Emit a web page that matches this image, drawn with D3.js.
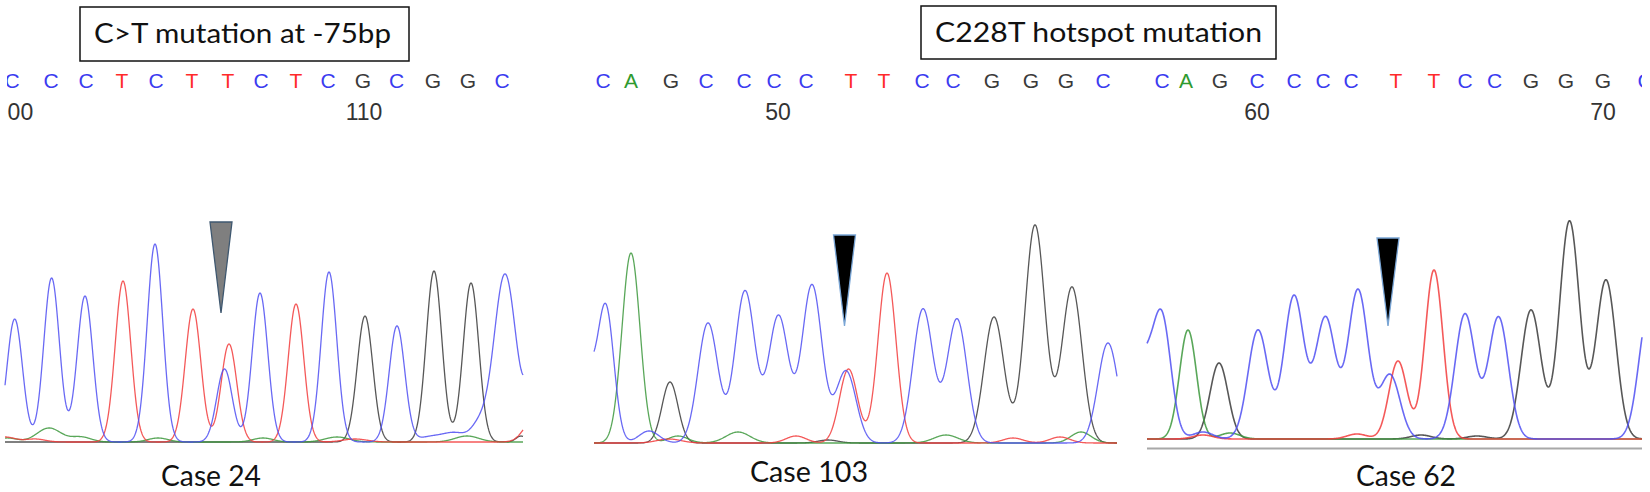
<!DOCTYPE html>
<html>
<head>
<meta charset="utf-8">
<script src="https://cdn.jsdelivr.net/npm/d3@7"></script>
<style>
  html, body { margin: 0; padding: 0; background: #ffffff; }
  svg { display: block; }
</style>
</head>
<body>
<svg id="chart" width="1650" height="492"></svg>
<script>
// ---------------- DATA ----------------
const titles = ["C>T mutation at -75bp", "C228T hotspot mutation"];
const caseLabels = ["Case 24", "Case 103", "Case 62"];

// Panel 1 (scan units)
const p1Bases   = ["C","C","C","T","C","T","T","C","T","C","G","C","G","G","C"];
const p1CallPos = [7, 46, 81, 117, 151, 187, 223, 256, 291, 323, 358, 391.5, 428, 463, 497];
const p1Ticks   = [["100", 9], ["110", 359]];
const p1Blue  = [[9.7,123],[46.6,164],[80,146],[150,198],[219.5,73],[255,149],[324,170],[392,116],[425,5,12],[450,9,12],[474,15,8],[500,168,11],[536,170,9]];
const p1Red   = [[0,5,10],[30,3,10],[118,161],[188,133],[224,98],[291,138],[350,3,12],[530,25,10]];
const p1Black = [[360,126],[429,171],[466,159],[516,6,5]];
const p1Green = [[2,4,10],[44,14,12],[76,5,10],[153,4,10],[258,4,10],[332,5,12],[462,6,12]];

// Panel 2
const p2Bases   = ["C","A","G","C","C","C","C","T","T","C","C","G","G","G","C"];
const p2CallPos = [9, 37, 77, 112, 150, 180, 212, 257, 290, 328, 359, 398, 437, 472, 509];
const p2Ticks   = [["50", 184]];
const p2Blue  = [[-10,80],[12,132,8],[55,12],[114,120],[151,152],[184.5,127],[218,158],[252,72],[329,134],[363,124],[514,100]];
const p2Red   = [[75,4,12],[202,7],[254.5,74,9],[293,170,9],[419,5],[466,6]];
const p2Black = [[76,61,8],[234,3],[400,126],[441,218],[478,156]];
const p2Green = [[37,190,9],[84,7],[144,11,12],[352,8,12],[487,11]];

// Panel 3
const p3Bases   = ["C","A","G","C","C","C","C","T","T","C","C","G","G","G","C"];
const p3CallPos = [15, 39, 73, 110, 147, 176, 204, 249, 287, 318, 347.5, 384, 419, 456, 498];
const p3Ticks   = [["60", 110], ["70", 456]];
const p3Blue  = [[-5,75],[15,118,9],[56,7],[111,109],[147,143],[178.5,121],[211,149],[243,64],[318,125],[351.5,122],[502,130]];
const p3Red   = [[56,4],[210,5],[251,78,9],[287,169,9]];
const p3Black = [[72,76,9],[274,4],[330,3],[384,129],[422.5,218],[459,159]];
const p3Green = [[41,109,8.5],[83,6]];

// ---------------- LAYOUT / STYLE ----------------
const panels = [
  { bases: p1Bases, calls: p1CallPos, ticks: p1Ticks, traces: {G: p1Black, A: p1Green, T: p1Red, C: p1Blue},
    sigma: 7.8, domain: [0, 518], x0: 5, x1: 523, base: 442, clipL: 7, clipR: 530,
    mut: 216, triTop: 220, triTip: 129, triFill: "#7f7f7f", triStroke: "#3f5870", lw: 1.3,
    caseX: 211, caseY: 486, caseW: 100 },
  { bases: p2Bases, calls: p2CallPos, ticks: p2Ticks, traces: {G: p2Black, A: p2Green, T: p2Red, C: p2Blue},
    sigma: 10, domain: [0, 523], x0: 594, x1: 1117, base: 443, clipL: 560, clipR: 1120,
    mut: 250.5, triTop: 208, triTip: 117, triFill: "#000000", triStroke: "#7aa6d6", lw: 1.3,
    caseX: 809, caseY: 482, caseW: 118 },
  { bases: p3Bases, calls: p3CallPos, ticks: p3Ticks, traces: {G: p3Black, A: p3Green, T: p3Red, C: p3Blue},
    sigma: 10, domain: [0, 495], x0: 1147, x1: 1642, base: 439, clipL: 1125, clipR: 1642,
    mut: 241, triTop: 201, triTip: 113, triFill: "#000000", triStroke: "#7aa6d6", lw: 1.6,
    caseX: 1406, caseY: 486, caseW: 100, underline: 448.5 }
];

const letterColor = { C: "#3b3bf0", T: "#ff2a2a", G: "#3a3a3a", A: "#2f9a2f" };
const traceColor  = { C: "#4f4ff2", T: "#f23c3c", G: "#3a3a3a", A: "#3c983c" };

const svg = d3.select("#chart");
const defs = svg.append("defs");

// Title boxes
const boxes = [
  { text: titles[0], x: 80, y: 7, w: 329, h: 54, tx: 94, tw: 297, ty: 43 },
  { text: titles[1], x: 921, y: 6, w: 355, h: 53, tx: 935, tw: 327, ty: 42 }
];
boxes.forEach(b => {
  svg.append("rect").attr("x", b.x).attr("y", b.y).attr("width", b.w).attr("height", b.h)
    .attr("fill", "#fff").attr("stroke", "#111").attr("stroke-width", 1.5);
  svg.append("text").attr("x", b.tx).attr("y", b.ty).text(b.text)
    .attr("font-family", "Lato, 'Open Sans', sans-serif").attr("font-size", 26)
    .attr("fill", "#111").attr("textLength", b.tw).attr("lengthAdjust", "spacingAndGlyphs");
});

panels.forEach((p, i) => {
  const x = d3.scaleLinear().domain(p.domain).range([p.x0, p.x1]);
  const y = d3.scaleLinear().domain([0, 250]).range([p.base, p.base - 250]);

  const clipId = "clip" + i;
  defs.append("clipPath").attr("id", clipId).append("rect")
    .attr("x", p.clipL).attr("y", 60).attr("width", p.clipR - p.clipL).attr("height", 80);
  const g = svg.append("g");

  // base calls
  const lg = g.append("g").attr("clip-path", `url(#${clipId})`);
  lg.selectAll("text.base").data(p.bases.map((b, k) => ({ b, pos: p.calls[k] })))
    .join("text").attr("class", "base")
    .attr("x", d => x(d.pos)).attr("y", 88).attr("text-anchor", "middle")
    .attr("font-family", "'Liberation Sans', Arial, sans-serif").attr("font-size", 21)
    .attr("fill", d => letterColor[d.b]).text(d => d.b);
  lg.selectAll("text.tick").data(p.ticks).join("text").attr("class", "tick")
    .attr("x", d => x(d[1])).attr("y", 120).attr("text-anchor", "middle")
    .attr("font-family", "'Liberation Sans', Arial, sans-serif").attr("font-size", 23)
    .attr("fill", "#333").text(d => d[0]);

  // traces
  const samples = d3.range(p.domain[0], p.domain[1] + 0.001, 0.5);
  const line = d3.line().x(d => x(d[0])).y(d => y(d[1]));
  ["G", "A", "T", "C"].forEach(ch => {
    const peaks = p.traces[ch];
    const pts = samples.map(s => {
      let v = 0;
      peaks.forEach(pk => {
        const sg = pk[2] || p.sigma;
        v += pk[1] * Math.exp(-((s - pk[0]) ** 2) / (2 * sg * sg));
      });
      return [s, v];
    });
    g.append("path").datum(pts).attr("d", line)
      .attr("fill", "none").attr("stroke", traceColor[ch])
      .attr("stroke-width", p.lw).attr("stroke-opacity", 0.85)
      .attr("stroke-linejoin", "round");
  });

  if (p.underline) {
    g.append("line").attr("x1", p.x0).attr("x2", p.x1)
      .attr("y1", p.underline).attr("y2", p.underline)
      .attr("stroke", "#a8a8a8").attr("stroke-width", 2.2);
  }

  // mutation marker
  const cx = x(p.mut);
  g.append("path")
    .attr("d", `M${cx - 11},${y(p.triTop)} L${cx + 11},${y(p.triTop)} L${cx},${y(p.triTip)} Z`)
    .attr("fill", p.triFill).attr("stroke", p.triStroke).attr("stroke-width", 1.3);

  // case label
  g.append("text").attr("x", p.caseX - p.caseW / 2).attr("y", p.caseY)
    .attr("font-family", "Lato, 'Open Sans', sans-serif").attr("font-size", 28)
    .attr("fill", "#111").attr("textLength", p.caseW).attr("lengthAdjust", "spacingAndGlyphs")
    .text(caseLabels[i]);
});
</script>
</body>
</html>
